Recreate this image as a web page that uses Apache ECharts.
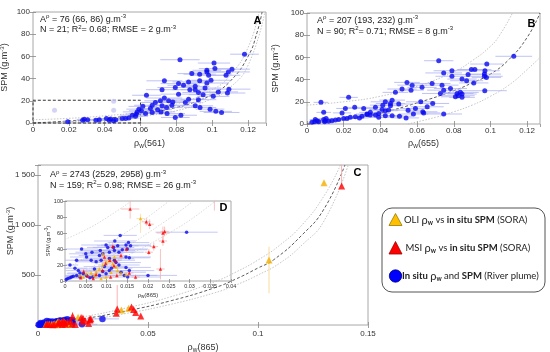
<!DOCTYPE html>
<html><head><meta charset="utf-8">
<script src="https://cdn.jsdelivr.net/npm/echarts/dist/echarts.min.js"></script>
<style>html,body{margin:0;padding:0;background:#fff}#c{width:550px;height:352px}</style>
</head><body><div id="c"></div>
<script>
const FONT = '"Liberation Sans", Arial, sans-serif';
const LFONT = 'Lato, "Open Sans", sans-serif';

// ---- Panel A : rho_w(561) vs SPM  [rho, SPM, rho half-error]
const ptsA = [[0.118,62,0.008],[0.082,57,0.011],[0.101,54,0.009],[0.111,48.5,0.010],[0.1015,49,0.009],[0.097,47.5,0.008],
[0.097,46,0.010],[0.109,46,0.012],[0.0886,44.5,0.008],[0.093,44,0.009],[0.098,43,0.010],[0.1077,43,0.008],[0.0733,38,0.010],
[0.0812,35.5,0.010],[0.0868,37,0.009],[0.0993,38.5,0.011],[0.093,38,0.008],[0.084,34,0.009],[0.097,36,0.012],[0.0905,33,0.008],
[0.096,31.5,0.009],[0.0794,32,0.010],[0.0875,30,0.010],[0.0905,30,0.008],[0.1093,30.5,0.012],[0.1085,27,0.010],[0.0923,27.5,0.009],
[0.072,30,0.009],[0.1034,28,0.011],[0.0949,25.5,0.008],[0.1006,24,0.009],[0.0812,26,0.010],[0.0633,25,0.008],[0.0733,22.5,0.010],
[0.0711,20,0.009],[0.0683,18.5,0.008],[0.0757,20,0.009],[0.0868,21.5,0.010],[0.0923,21,0.010],[0.085,18.5,0.009],[0.0665,16,0.010],
[0.072,15.5,0.008],[0.0775,16,0.009],[0.0905,15.5,0.010],[0.0932,14,0.009],[0.0988,12.5,0.008],[0.1052,9.5,0.010],[0.102,10.5,0.009],
[0.0613,15,0.008],[0.0591,12.5,0.007],[0.0581,10,0.008],[0.0628,8.5,0.008],[0.0665,9.5,0.009],[0.0714,10,0.008],[0.0748,8.5,0.010],
[0.0794,5,0.008],[0.0825,7,0.009],[0.0572,6,0.007],[0.0554,7,0.007],[0.0576,8,0.006],[0.0517,4,0.006],[0.0498,4,0.006],[0.0462,3,0.005],
[0.0425,2.5,0.005],[0.041,4,0.005],[0.0351,2.5,0.005],[0.0305,3,0.004],[0.0286,3.3,0.004],[0.0277,2.5,0.004],[0.0194,1.2,0.003],
[0.037,3,0.004],[0.0434,3.5,0.005],[0.0449,2,0.005],[0.0535,4.5,0.006],[0.0605,11,0.007],[0.0655,13,0.008],[0.0695,12,0.008],
[0.0745,14,0.009],[0.078,19,0.009]];
const fadedA = [[0.012,11.5],[0.045,11.5],[0.045,19.5]];
const boxA = [0, 0, 0.06, 20.5];
const fitA_mid = [[0,0],[0.02,1.8],[0.04,4.2],[0.06,7.9],[0.08,14],[0.09,18.8],[0.1,25.9],[0.11,37.6],[0.12,60],[0.125,81.5],[0.1278,100]];
const fitA_hi  = [[0,3],[0.02,4.2],[0.04,6.5],[0.06,10],[0.08,17],[0.1,30],[0.11,43],[0.12,68],[0.1261,100]];
const fitA_lo  = [[0,0],[0.02,1],[0.04,2.8],[0.06,6],[0.08,11],[0.1,22],[0.11,32],[0.12,52],[0.1294,100]];

// ---- Panel B : rho_w(655) vs SPM
const ptsB = [[0.1127,61,0.01],[0.0718,57,0.008],[0.098,54,0.009],[0.0896,49,0.008],[0.0915,49,0.009],[0.079,48,0.01],[0.097,48,0.008],
[0.0967,45,0.009],[0.0745,46,0.01],[0.0878,44.5,0.009],[0.0967,43,0.01],[0.0978,42,0.008],[0.079,43,0.009],[0.0845,40.5,0.008],
[0.087,39,0.009],[0.0909,37,0.008],[0.0545,37.5,0.007],[0.0682,36.5,0.01],[0.0573,35,0.008],[0.0736,35,0.009],[0.0627,33,0.008],
[0.0518,31.5,0.008],[0.0567,30.5,0.007],[0.0745,30.5,0.009],[0.0969,30,0.012],[0.0782,32,0.009],[0.0482,28.5,0.007],[0.0727,27.5,0.01],
[0.0818,27.5,0.009],[0.0836,28.5,0.01],[0.0845,27,0.008],[0.0824,25.5,0.009],[0.0809,24.5,0.008],[0.0845,24,0.007],[0.0227,24,0.005],
[0.0076,19.5,0.004],[0.0427,20,0.008],[0.0464,21.5,0.007],[0.0455,18.5,0.008],[0.0413,17,0.007],[0.05,18,0.008],[0.0455,16.5,0.007],
[0.0373,15,0.006],[0.0309,14,0.006],[0.026,15,0.005],[0.0209,14,0.005],[0.0091,10.5,0.004],[0.0191,10,0.005],[0.0427,12,0.007],
[0.0445,12.7,0.006],[0.0409,13,0.007],[0.0391,9.5,0.006],[0.0631,11,0.008],[0.0636,10,0.009],[0.0591,14,0.008],[0.0551,12.5,0.007],
[0.0655,15.5,0.009],[0.0504,7,0.007],[0.0464,7.5,0.006],[0.0745,9,0.01],[0.0327,9,0.006],[0.0345,10.5,0.006],[0.03,7,0.005],
[0.0373,8,0.006],[0.0427,7.5,0.006],[0.0264,6.5,0.005],[0.0218,5,0.005],[0.02,5,0.004],[0.0173,4,0.004],[0.0155,3.5,0.004],
[0.01,3,0.003],[0.0091,4,0.003],[0.0055,3,0.003],[0.0042,2,0.003],[0.0027,1.5,0.002],[0.0064,2,0.003],[0.0118,2.5,0.003],
[0.0136,3,0.004],[0.0096,2,0.003],[0.0045,4,0.003],[0.0104,5,0.004],[0.0236,6,0.005],[0.0345,8,0.006],[0.0391,6,0.006],
[0.0327,8.5,0.005],[0.0286,5.5,0.005],[0.054,5.5,0.007],[0.058,9,0.008],[0.0685,18.5,0.009],[0.062,20,0.008]];
const fitB_mid = [[0,0],[0.02,4],[0.04,10],[0.06,19],[0.08,30],[0.09,37],[0.1,45],[0.11,58],[0.12,78],[0.127,100]];
const fitB_hi  = [[0,17],[0.02,20],[0.04,25],[0.06,34],[0.08,47],[0.09,57],[0.1,70],[0.105,80],[0.112,100]];
const fitB_lo  = [[0.055,0],[0.07,6],[0.08,11],[0.09,17],[0.1,25],[0.11,35],[0.12,49],[0.127,60]];

// ---- Panels C and D : rho_w(865) vs SPM
// blue in situ [rho, SPM, rho half-error]
const blueC = [[0.0293,61,0.0075],[0.0133,57,0.004],[0.0153,48,0.005],[0.0147,45,0.006],[0.0158,44,0.005],[0.0099,45,0.006],
[0.0127,44,0.005],[0.0117,42,0.005],[0.0138,39,0.006],[0.015,40,0.005],[0.004,40,0.004],[0.005,34,0.004],[0.0052,30,0.004],
[0.0083,32,0.005],[0.0091,34,0.005],[0.0107,36,0.006],[0.0119,38,0.005],[0.013,36,0.006],[0.0147,30,0.006],[0.0155,29,0.005],
[0.0063,26,0.004],[0.0075,24,0.005],[0.0087,26,0.005],[0.0107,28,0.006],[0.0119,26,0.005],[0.0123,23,0.006],[0.013,20,0.005],
[0.0147,17,0.006],[0.0155,13,0.006],[0.0143,7,0.008],[0.0151,5,0.008],[0.02,7,0.007],[0.0012,20,0.002],[0.0024,16,0.003],
[0.0032,13,0.003],[0.0036,10,0.003],[0.0044,9,0.004],[0.0052,7,0.004],[0.0003,2,0.001],[0.0007,3,0.001],[0.0012,4,0.002],
[0.0016,5,0.002],[0.002,6,0.002],[0.0028,7,0.003],[0.0036,5,0.003],[0.006,4,0.004],[0.0067,5,0.004],[0.0083,7,0.005],
[0.0099,9,0.005],[0.0107,13,0.005],[0.0095,18,0.005],[0.0071,15,0.004],[0.0091,12,0.005],[0.0112,16,0.005],[0.0135,11,0.006],
[0.0028,26,0.003],[0.0065,36,0.004],[0.0085,38,0.005],[0.0103,42,0.005],[0.012,50,0.005]];
// MSI (red) [rho, SPM, SPM low, SPM high, rho half-error]
const redC = [[0.0157,90,78,130,0.0022],[0.0196,74,69,79,0.001],[0.0204,71,65,77,0.001],[0.0236,60,52,68,0.0015],[0.0236,50,44,56,0.001],
[0.0214,43,38,48,0.001],[0.0202,36,32,40,0.001],[0.023,15,2,40,0.001],[0.0115,43,38,48,0.001],[0.0148,40,36,44,0.001],
[0.0135,32,27,37,0.001],[0.0108,26,22,30,0.001],[0.0122,25,21,29,0.001],[0.0098,22,19,25,0.001],[0.009,13,10,16,0.001],
[0.0075,8,5,11,0.001],[0.0055,6,4,8,0.001],[0.0045,12,9,15,0.001],[0.0038,4,2,6,0.001],[0.0068,3,1,5,0.001],[0.011,5,3,7,0.001],
[0.0125,7,4,10,0.001],[0.0155,10,6,14,0.001],[0.017,5,2,8,0.001],[0.0095,30,26,34,0.001],[0.0118,19,16,22,0.001],
[0.036,160,88,400,0.001],[0.0356,117,102,132,0.001],[0.0425,180,165,195,0.001],[0.0435,155,143,167,0.001],[0.0444,125,115,135,0.001],
[0.0467,90,82,98,0.001],[0.024,62,56,68,0.001],[0.138,1390,1390,1700,0.001]];
// OLI (orange) [rho, SPM, SPM low, SPM high, rho half-error]
const orangeC = [[0.0051,9,7,11,0.001],[0.0063,10,8,12,0.001],[0.0075,12,10,14,0.001],[0.0083,15,12,18,0.001],[0.0091,20,17,23,0.001],
[0.0099,24,21,27,0.001],[0.0107,26,22,30,0.001],[0.0115,22,19,25,0.001],[0.0123,17.5,15,20,0.001],[0.0127,13,11,15,0.001],
[0.0135,10,8,12,0.001],[0.0147,8,6,10,0.001],[0.0036,7,5,9,0.001],[0.0044,5,3,7,0.001],[0.0071,7,5,9,0.001],[0.0099,5,3,7,0.001],
[0.0087,3,2,4,0.001],[0.0111,11,9,13,0.001],[0.0119,30,26,34,0.001],[0.0091,34,30,38,0.001],[0.0182,78,60,84,0.001],
[0.0379,150,140,160,0.001],[0.0412,167,155,180,0.001],[0.105,650,317,783,0.001],[0.130,1423,1410,1436,0.002]];
const fitC_mid = [[0,0],[0.02,60],[0.04,140],[0.06,240],[0.08,370],[0.09,460],[0.1,570],[0.107,650],[0.12,900],[0.13,1160],[0.1395,1600]];
const fitC_hi  = [[0,15],[0.02,80],[0.04,170],[0.06,280],[0.08,430],[0.09,530],[0.1,650],[0.11,800],[0.12,1000],[0.13,1290],[0.1375,1600]];
const fitC_lo  = [[0,0],[0.02,45],[0.04,115],[0.06,205],[0.08,320],[0.09,400],[0.1,500],[0.11,620],[0.12,800],[0.13,1040],[0.141,1600]];
const insetLine = [[0,52],[0.005,64],[0.01,79],[0.016,100]];
const ticksCy = [500, 1000, 1500];
const tickLabelsCy = ['500', '1 000', '1 500'];

// axis ranges
const axA = {xmax:0.13, xstep:0.02, ymax:100, ystep:20};
const axB = {xmax:0.127, xstep:0.02, ymax:100, ystep:20};
const axC = {xmax:0.15, xstep:0.05, ymax:1600, ystep:500};
const axD = {xmax:0.04, xstep:0.005, ymax:100, ystep:20};

const rich = {
  sub:{fontSize:6.5, lineHeight:6, verticalAlign:'bottom', fontFamily:FONT, color:'#333'},
  sup:{fontSize:6, lineHeight:6, verticalAlign:'top', fontFamily:FONT, color:'#333'},
  ssub:{fontSize:4.5, lineHeight:4, verticalAlign:'bottom', fontFamily:FONT, color:'#333'},
  ssup:{fontSize:4.5, lineHeight:4, verticalAlign:'top', fontFamily:FONT, color:'#333'}
};

const grids = [
  {left:33, top:12, width:233, height:111},
  {left:307, top:13, width:233, height:111},
  {left:38, top:165, width:330, height:160},
  {left:65, top:201, width:166, height:80}
].map(g => Object.assign({show:true, borderColor:'#a8a8a8', borderWidth:1, backgroundColor:'transparent', containLabel:false, outerBoundsMode:'none'}, g));

function cAxis(gi, ax, isX, opts) {
  const small = gi === 3;
  const base = {
    type:'value', gridIndex:gi, min:0, max: isX ? ax.xmax : ax.ymax, interval: isX ? ax.xstep : ax.ystep,
    axisLine:{show:false}, splitLine:{show:false}, nameMoveOverlap:false,
    axisTick:{show:true, inside:true, length: small ? 2 : 3, lineStyle:{color:'#888', width:0.8}},
    axisLabel:{fontFamily:FONT, fontSize: small ? 5.5 : 8, color:'#333', margin: small ? 2 : 3, hideOverlap:false}
  };
  return Object.assign(base, opts || {});
}
function mirror(gi, ax, isX) {
  return cAxis(gi, ax, isX, {position: isX ? 'top' : 'right', axisLabel:{show:false}});
}

const xAxes = [
  cAxis(0, axA, true, {name:'ρ{sub|w}(561)', nameLocation:'middle', nameGap:15, nameTextStyle:{fontFamily:FONT, fontSize:9, color:'#333', lineHeight:12, rich}, axisLabel:{fontFamily:FONT, fontSize:8, color:'#333', margin:3, showMaxLabel:false}}),
  cAxis(1, axB, true, {name:'ρ{sub|w}(655)', nameLocation:'middle', nameGap:14, nameTextStyle:{fontFamily:FONT, fontSize:9, color:'#333', lineHeight:12, rich}, axisLabel:{fontFamily:FONT, fontSize:8, color:'#333', margin:3, showMaxLabel:false}}),
  cAxis(2, axC, true, {name:'ρ{sub|w}(865)', nameLocation:'middle', nameGap:17, nameTextStyle:{fontFamily:FONT, fontSize:9, color:'#333', lineHeight:12, rich}, axisLabel:{fontFamily:FONT, fontSize:8, color:'#333', margin:5}}),
  cAxis(3, axD, true, {name:'ρ{ssub|w}(865)', nameLocation:'middle', nameGap:10, nameTextStyle:{fontFamily:FONT, fontSize:6, color:'#333', lineHeight:8, rich}}),
  mirror(0, axA, true), mirror(1, axB, true), mirror(2, axC, true), mirror(3, axD, true)
];
const yAxes = [
  cAxis(0, axA, false, {name:'SPM (g.m{sup|-3})', nameLocation:'middle', nameGap:22, nameTextStyle:{fontFamily:FONT, fontSize:9, color:'#333', lineHeight:12, rich}}),
  cAxis(1, axB, false, {name:'SPM (g.m{sup|-3})', nameLocation:'middle', nameGap:25, nameTextStyle:{fontFamily:FONT, fontSize:9, color:'#333', lineHeight:12, rich}}),
  cAxis(2, axC, false, {axisLabel:{show:false}}),
  cAxis(3, axD, false, {name:'SPM (g.m{ssup|-3})', nameLocation:'middle', nameGap:13, nameTextStyle:{fontFamily:FONT, fontSize:5.5, color:'#333', lineHeight:8, rich}}),
  mirror(0, axA, false), mirror(1, axB, false), mirror(2, axC, false), mirror(3, axD, false)
];

function errBars(gi, rows, dir, color, lw, z) {
  return {type:'custom', xAxisIndex:gi, yAxisIndex:gi, silent:true, z:z || 2, clip:true,
    renderItem:(params, api) => {
      const cs = params.coordSys;
      const x0 = cs.x, x1 = cs.x + cs.width, y0 = cs.y, y1 = cs.y + cs.height;
      let p, q;
      if (dir === 'h') {
        p = api.coord([api.value(2), api.value(1)]); q = api.coord([api.value(3), api.value(1)]);
        if (p[1] < y0 - 0.5 || p[1] > y1 + 0.5) return null;
        p[0] = Math.max(x0, Math.min(x1, p[0])); q[0] = Math.max(x0, Math.min(x1, q[0]));
      } else {
        p = api.coord([api.value(0), api.value(2)]); q = api.coord([api.value(0), api.value(3)]);
        if (p[0] < x0 - 0.5 || p[0] > x1 + 0.5) return null;
        p[1] = Math.max(y0, Math.min(y1, p[1])); q[1] = Math.max(y0, Math.min(y1, q[1]));
      }
      return {type:'line', shape:{x1:p[0], y1:p[1], x2:q[0], y2:q[1]}, style:{stroke:color, lineWidth:lw}};
    },
    data: rows};
}
function curve(gi, data, kind, color) {
  const dashed = kind === 'mid';
  return {type:'line', xAxisIndex:gi, yAxisIndex:gi, data, showSymbol:false, smooth:0.5, silent:true, z:1,
    lineStyle:{color: color || (dashed ? '#333' : '#b8b8b8'), width: 0.8, type: dashed ? [3,2] : [1.5,1.5]}};
}
function scatter(gi, data, symbol, size, color, z, border) {
  return {type:'scatter', xAxisIndex:gi, yAxisIndex:gi, data, symbol, symbolSize:size, silent:true, z: z || 3,
    itemStyle:{color, borderColor: border || color, borderWidth: border ? 0.5 : 0}};
}
const hRows = rows => rows.map(r => [r[0], r[1], r[0] - r[r.length - 1], r[0] + r[r.length - 1]]);
const vRows = rows => rows.map(r => [r[0], r[1], r[2], r[3]]);
const xy = rows => rows.map(r => [r[0], r[1]]);

const BLUE = '#0a0af0', RED = '#ff0000', ORANGE = '#f2b000';
const BLUE_E = '#aeb2f2', RED_E = '#f7a8a8', ORANGE_E = '#f8d890';

const series = [];
// A
series.push(curve(0, fitA_hi, 'b'), curve(0, fitA_lo, 'b'), curve(0, fitA_mid, 'mid'));
series.push(errBars(0, hRows(ptsA), 'h', BLUE_E, 0.8));
series.push(Object.assign(scatter(0, fadedA, 'circle', 5, '#c8c8f2', 2), {
  markArea:{silent:true, itemStyle:{color:'rgba(0,0,0,0)', borderColor:'#333', borderWidth:1, borderType:[3,2]},
    data:[[{xAxis:boxA[0], yAxis:boxA[1]}, {xAxis:boxA[2], yAxis:boxA[3]}]]}}));
series.push(scatter(0, xy(ptsA), 'circle', 5, BLUE));
// B
series.push(curve(1, fitB_hi, 'b'), curve(1, fitB_lo, 'b'), curve(1, fitB_mid, 'mid'));
series.push(errBars(1, hRows(ptsB), 'h', BLUE_E, 0.8));
series.push(scatter(1, xy(ptsB), 'circle', 5, BLUE));
// C
series.push(curve(2, fitC_hi, 'b'), curve(2, fitC_lo, 'b'), curve(2, fitC_mid, 'mid'));
series.push(errBars(2, hRows(blueC), 'h', BLUE_E, 0.8));
series.push(errBars(2, vRows(redC), 'v', RED_E, 0.9), errBars(2, vRows(orangeC), 'v', ORANGE_E, 0.9));
series.push(scatter(2, xy(blueC), 'circle', 6.5, BLUE, 3));
series.push(scatter(2, xy(orangeC), 'triangle', 7, ORANGE, 4));
series.push(scatter(2, xy(redC), 'triangle', 7, RED, 5));
// D
series.push(curve(3, fitC_hi, 'b', '#d2d2d2'), curve(3, fitC_mid, 'b', '#d2d2d2'), curve(3, fitC_lo, 'b', '#d2d2d2'), curve(3, insetLine, 'b', '#d2d2d2'));
series.push(errBars(3, hRows(blueC), 'h', BLUE_E, 0.7, 6));
series.push(errBars(3, vRows(redC), 'v', RED_E, 0.7, 6), errBars(3, vRows(orangeC), 'v', ORANGE_E, 0.7, 6));
series.push(errBars(3, hRows(redC), 'h', RED_E, 0.7, 6), errBars(3, hRows(orangeC), 'h', ORANGE_E, 0.7, 6));
series.push(scatter(3, xy(blueC), 'circle', 3.5, BLUE, 7));
series.push(scatter(3, xy(orangeC), 'triangle', 3.5, ORANGE, 8));
series.push(scatter(3, xy(redC), 'triangle', 3.5, RED, 9));

const txt = (x, y, text, size, extra, rot) => ({type:'text', x, y, z:20, silent:true, rotation: rot || 0,
  style:Object.assign({text, fontFamily:FONT, fontSize:size, fill:'#222', lineHeight:12, verticalAlign:'middle', rich}, extra || {})});

const legRich = {
  b:{fontFamily:LFONT, fontSize:9.5, fontWeight:'bold', color:'#111'},
  n:{fontFamily:LFONT, fontSize:9.5, color:'#222'},
  g:{fontFamily:LFONT, fontSize:9.5, color:'#444'},
  r:{fontFamily:LFONT, fontSize:11, color:'#111'},
  w:{fontFamily:LFONT, fontSize:6.5, fontWeight:'bold', color:'#111', lineHeight:5, verticalAlign:'bottom'}
};
const legTxt = (x, y, text) => ({type:'text', x, y, z:21, silent:true,
  style:{text, rich:legRich, fontFamily:LFONT, fontSize:9.5, fill:'#222', verticalAlign:'middle', lineHeight:13}});

const graphic = [
  txt(40, 19.5, 'A{sup|ρ} = 76 (66, 86) g.m{sup|-3}', 9),
  txt(40, 30, 'N = 21; R{sup|2}= 0.68; RMSE = 2 g.m{sup|-3}', 9),
  txt(257.5, 21, 'A', 11, {fontWeight:'bold', align:'center', fill:'#000'}),
  txt(317, 20.5, 'A{sup|ρ} = 207 (193, 232) g.m{sup|-3}', 9),
  txt(317, 31.5, 'N = 90; R{sup|2}= 0.71; RMSE = 8 g.m{sup|-3}', 9),
  txt(531.5, 24, 'B', 11, {fontWeight:'bold', align:'center', fill:'#000'}),
  txt(50, 175, 'A{sup|ρ} = 2743 (2529, 2958) g.m{sup|-3}', 9),
  txt(50, 185.5, 'N = 159; R{sup|2}= 0.98; RMSE = 26 g.m{sup|-3}', 9),
  txt(357.5, 173, 'C', 11, {fontWeight:'bold', align:'center', fill:'#000'}),
  txt(223.5, 207.5, 'D', 11, {fontWeight:'bold', align:'center', fill:'#000'}),
  txt(11, 231, 'SPM (g.m{sup|-3})', 9, {align:'center', fill:'#333'}, Math.PI / 2),
  {type:'rect', z:19, silent:true, shape:{x:382, y:208, width:163, height:84, r:10}, style:{fill:'#fff', stroke:'#555', lineWidth:1}},
  {type:'polygon', z:21, silent:true, shape:{points:[[395.5,213.5],[389,225.5],[402,225.5]]}, style:{fill:'#FFC000', stroke:'#9a7a00', lineWidth:0.8}},
  {type:'polygon', z:21, silent:true, shape:{points:[[395.5,241.5],[389,254],[402,254]]}, style:{fill:'#ff0000', stroke:'#a00000', lineWidth:0.8}},
  {type:'circle', z:21, silent:true, shape:{cx:395.5, cy:276, r:6.2}, style:{fill:'#0000ff', stroke:'#000080', lineWidth:0.8}},
  legTxt(404, 220, '{n|OLI }{r|ρ}{w|w}{n| vs }{b|in situ SPM}{g| (SORA)}'),
  legTxt(405.5, 248, '{n|MSI }{r|ρ}{w|w}{n| vs }{b|in situ SPM}{g| (SORA)}'),
  legTxt(402, 276, '{b|In situ }{r|ρ}{w|w}{n| and }{b|SPM}{g| (River plume)}')
];

const chart = echarts.init(document.getElementById('c'), null, {renderer:'canvas'});
chart.setOption({
  animation:false, backgroundColor:'#fff',
  grid:grids, xAxis:xAxes, yAxis:yAxes, series, graphic
});
// panel C y tick labels, placed through the C y-axis scale
const cLabels = ticksCy.map((v, i) => {
  const py = chart.convertToPixel({yAxisIndex:2}, v);
  return {type:'text', x:35, y:py, z:22, silent:true,
    style:{text:tickLabelsCy[i], fontFamily:FONT, fontSize:8, fill:'#333', align:'right', verticalAlign:'middle'}};
});
chart.setOption({graphic: graphic.concat(cLabels)});
</script></body></html>
